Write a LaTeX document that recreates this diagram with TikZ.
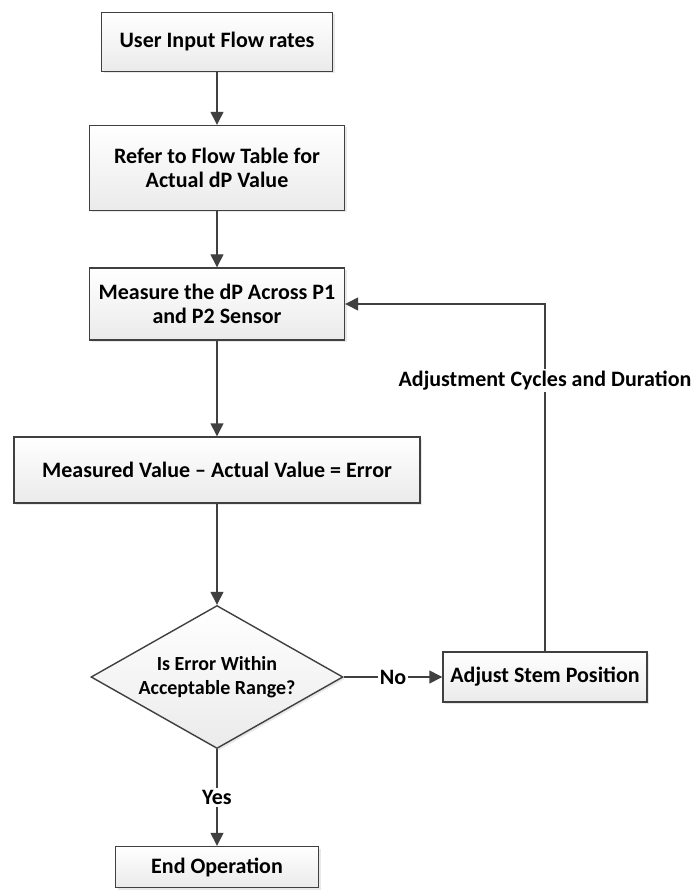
\documentclass[tikz,border=0pt]{standalone}
\usepackage{fontspec}
\setmainfont{Carlito}
\usetikzlibrary{arrows.meta,shapes.geometric,shadows}

\begin{document}
\begin{tikzpicture}[x=1pt,y=-1pt,
  box/.style={draw=black!75, line width=1.4pt, top color=white, bottom color=black!8,
    drop shadow={opacity=0.18, shadow xshift=2pt, shadow yshift=-2pt},
    inner sep=0pt, align=center, font=\bfseries\fontsize{22}{24}\selectfont},
  flow/.style={draw=black!75, line width=1.4pt, -{Triangle[length=13pt,width=13pt]}},
  lbl/.style={fill=white, inner sep=2pt, font=\bfseries\fontsize{22}{24}\selectfont}]

  \useasboundingbox (0,0) rectangle (693,890);

  \pgfmathsetmacro{\xmain}{217}
  \pgfmathsetmacro{\xadj}{545}

  % Draw process boxes
  \node[box, minimum width=231pt, minimum height=59pt] (inp) at (\xmain,42) {User Input Flow rates};
  \node[box, minimum width=255pt, minimum height=85pt] (tbl) at (\xmain,168) {Refer to Flow Table for\\Actual dP Value};
  \node[box, minimum width=255pt, minimum height=72pt] (meas) at (\xmain,304) {Measure the dP Across P1\\and P2 Sensor};
  \node[box, minimum width=406pt, minimum height=66pt] (err) at (\xmain,470) {Measured Value – Actual Value = Error};
  \node[box, diamond, minimum width=252pt, minimum height=143pt] (chk) at (\xmain,677) {};
  \node[align=center, font=\bfseries\fontsize{20}{24}\selectfont] (chktxt) at (chk) {Is Error Within\\Acceptable Range?};
  \node[box, minimum width=204pt, minimum height=50pt] (adj) at (\xadj,677) {Adjust Stem Position};
  \node[box, minimum width=203pt, minimum height=41pt] (done) at (\xmain,867) {End Operation};

  % Draw connectors
  \draw[flow] (inp) -- (tbl);
  \draw[flow] (tbl) -- (meas);
  \draw[flow] (meas) -- (err);
  \draw[flow] (err) -- (chk);
  \draw[flow] (chk) -- node[lbl] {No} (adj);
  \draw[flow] (chk) -- node[lbl] {Yes} (done);
  \draw[flow] (adj.north) |- node[lbl, pos=0.39] {Adjustment Cycles and Duration} (meas.east);

\end{tikzpicture}
\end{document}
